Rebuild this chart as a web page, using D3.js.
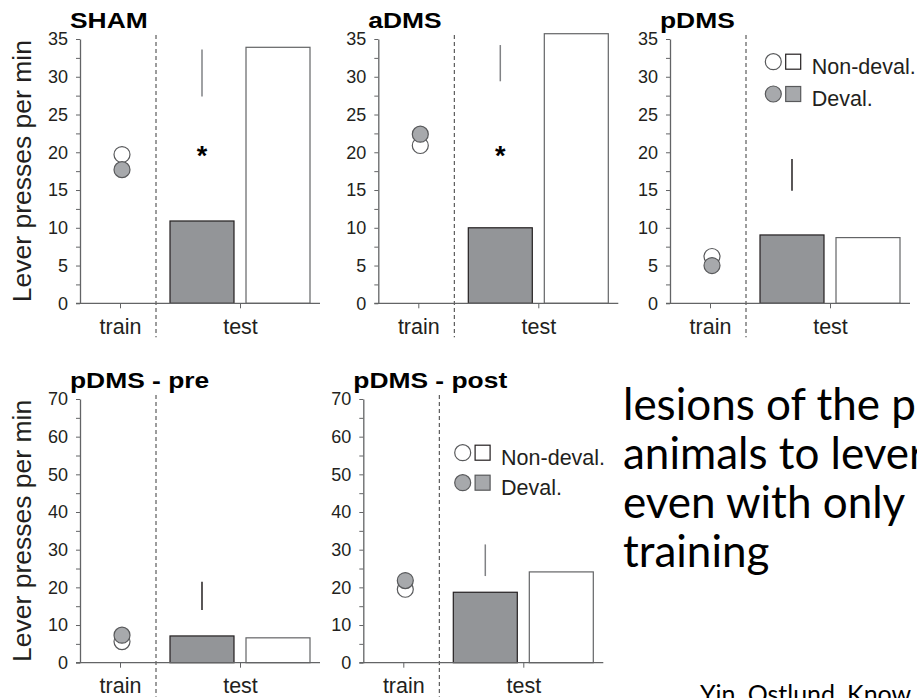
<!DOCTYPE html>
<html>
<head>
<meta charset="utf-8">
<script src="https://cdn.jsdelivr.net/npm/d3@7"></script>
<style>
  body { margin: 0; background: #fff; }
  svg { display: block; font-family: 'Liberation Sans', Arial, sans-serif; }
</style>
</head>
<body>
<svg width="917" height="698"></svg>
<script>
// values (lever presses per min)
let titles = ['SHAM', 'aDMS', 'pDMS', 'pDMS - pre', 'pDMS - post']
let phases = ['train', 'test']
let groups = ['Deval.', 'Non-deval.']
let yMax = [35, 35, 35, 70, 70]
let yStep = [5, 5, 5, 10, 10]
let trainNonDeval = [19.7, 20.9, 6.2, 5.6, 19.5]
let trainDeval = [17.7, 22.4, 5.0, 7.3, 21.8]
let testDeval = [10.9, 10.0, 9.05, 7.1, 18.7]
let testNonDeval = [33.9, 35.7, 8.7, 6.6, 24.1]
let errLow = [27.4, 29.4, 14.9, 14.0, 23.0]
let errHigh = [33.6, 34.2, 19.1, 21.5, 31.4]
let stars = [20.4, 20.4, null, null, null]
let legendLabels = ['Non-deval.', 'Deval.']
let yLabel = 'Lever presses per min'
let textLines = ['lesions of the p', 'animals to lever', 'even with only', 'training']
let citation = 'Yin, Ostlund, Know'

// panel placement on the page
let boxes = [
  { x: 80, top: 39, bottom: 303.3, err: '#808285', ylab: true },
  { x: 378.3, top: 39, bottom: 303.3, err: '#808285' },
  { x: 670, top: 39, bottom: 303.3, err: '#231f20', legend: [103.3, 61.7, 32.3] },
  { x: 80, top: 399, bottom: 662.7, err: '#231f20', ylab: true },
  { x: 363.3, top: 399, bottom: 662.7, err: '#808285', legend: [99.4, 452.7, 30] }
]

let ink = '#231f20'
let axisCol = '#636466'
let greyFill = '#939598'
let dotFill = '#a7a9ac'

let svg = d3.select('svg')
svg.append('rect').attr('width', 917).attr('height', 698).attr('fill', '#fff')

let tx = d3.scalePoint().domain(phases).range([40, 160])
let bx = d3.scaleBand().domain(groups).range([90, 230]).paddingInner(0.158)

titles.forEach((title, i) => {
  let b = boxes[i]
  let y = d3.scaleLinear().domain([0, yMax[i]]).range([b.bottom, b.top])
  let major = d3.range(0, yMax[i] + 0.01, yStep[i])
  let minor = d3.range(yStep[i] / 2, yMax[i], yStep[i])

  let g = svg.append('g').attr('transform', 'translate(' + b.x + ',0)')

  // title
  g.append('text')
    .attr('transform', 'translate(-10,' + (b.top - 11) + ') scale(1.2,1)')
    .attr('font-size', 22)
    .attr('font-weight', 'bold')
    .attr('fill', '#000')
    .text(title)

  // dashed separator
  g.append('line')
    .attr('x1', 76).attr('x2', 76)
    .attr('y1', b.top - 4).attr('y2', b.bottom + 34)
    .attr('stroke', '#3a3a3a')
    .attr('stroke-dasharray', '4,3')

  // bars
  let bars = [
    { k: 'Deval.', v: testDeval[i] },
    { k: 'Non-deval.', v: testNonDeval[i] }
  ]
  g.selectAll('.bar')
    .data(bars)
    .enter()
    .append('rect')
    .attr('x', d => bx(d.k))
    .attr('width', bx.bandwidth())
    .attr('y', d => y(d.v))
    .attr('height', d => y(0) - y(d.v))
    .attr('fill', d => d.k == 'Deval.' ? greyFill : '#fff')
    .attr('stroke', d => d.k == 'Deval.' ? ink : axisCol)
    .attr('stroke-width', 1.2)

  // error bar
  let ex = bx('Deval.') + bx.bandwidth() / 2
  g.append('line')
    .attr('x1', ex).attr('x2', ex)
    .attr('y1', y(errLow[i])).attr('y2', y(errHigh[i]))
    .attr('stroke', b.err)
    .attr('stroke-width', 1.5)

  if (stars[i] != null) {
    g.append('text')
      .attr('x', ex)
      .attr('y', y(stars[i]))
      .attr('dy', '0.58em')
      .attr('text-anchor', 'middle')
      .attr('font-size', 27)
      .attr('font-weight', 'bold')
      .attr('fill', '#000')
      .text('*')
  }

  // training dots, deval drawn on top
  let dots = [
    { k: 'Non-deval.', v: trainNonDeval[i] },
    { k: 'Deval.', v: trainDeval[i] }
  ]
  g.selectAll('.dot')
    .data(dots)
    .enter()
    .append('circle')
    .attr('cx', tx('train') + 2)
    .attr('cy', d => y(d.v))
    .attr('r', 8)
    .attr('fill', d => d.k == 'Deval.' ? dotFill : '#fff')
    .attr('stroke', '#58595b')
    .attr('stroke-width', 1.2)

  // baseline
  g.append('line')
    .attr('x1', -4).attr('x2', 240)
    .attr('y1', y(0)).attr('y2', y(0))
    .attr('stroke', axisCol)
    .attr('stroke-width', 1.3)

  // y axis
  let ya = g.append('g')
    .call(d3.axisLeft(y).tickValues(major).tickSize(4).tickSizeOuter(0).tickPadding(8))
  ya.select('.domain').attr('stroke', axisCol).attr('stroke-width', 1.3)
  ya.selectAll('.tick line').attr('stroke', axisCol)
  ya.selectAll('.tick text')
    .attr('font-size', 18)
    .attr('font-family', "'Liberation Sans', Arial, sans-serif")
    .attr('fill', ink)

  let ym = g.append('g')
    .call(d3.axisLeft(y).tickValues(minor).tickSize(4).tickFormat(''))
  ym.select('.domain').remove()
  ym.selectAll('.tick line').attr('stroke', axisCol)

  // x axis
  let xa = g.append('g')
    .attr('transform', 'translate(0,' + y(0) + ')')
    .call(d3.axisBottom(tx).tickSize(5).tickPadding(10))
  xa.select('.domain').remove()
  xa.selectAll('.tick line').attr('stroke', axisCol)
  xa.selectAll('.tick text')
    .attr('font-size', 21.5)
    .attr('font-family', "'Liberation Sans', Arial, sans-serif")
    .attr('fill', ink)

  if (b.ylab) {
    svg.append('text')
      .attr('transform', 'translate(30.7,' + ((b.top + b.bottom) / 2) + ') rotate(-90)')
      .attr('text-anchor', 'middle')
      .attr('font-size', 26.5)
      .attr('fill', ink)
      .text(yLabel)
  }

  if (b.legend) {
    let [lx, ly, gap] = b.legend
    let lg = g.selectAll('.leg')
      .data(legendLabels)
      .enter()
      .append('g')
      .attr('transform', (d, j) => 'translate(' + lx + ',' + (ly + j * gap) + ')')
    lg.append('circle')
      .attr('r', 8)
      .attr('fill', d => d == 'Deval.' ? dotFill : '#fff')
      .attr('stroke', '#58595b')
      .attr('stroke-width', 1.2)
    lg.append('rect')
      .attr('x', 12.4).attr('y', -7.5)
      .attr('width', 15).attr('height', 15)
      .attr('fill', d => d == 'Deval.' ? dotFill : '#fff')
      .attr('stroke', d => d == 'Deval.' ? '#58595b' : ink)
      .attr('stroke-width', 1.2)
    lg.append('text')
      .attr('x', 38.4)
      .attr('y', 12)
      .attr('font-size', 21.5)
      .attr('fill', ink)
      .text(d => d)
  }
})

// slide text on the right
svg.append('g')
  .selectAll('text')
  .data(textLines)
  .enter()
  .append('text')
  .attr('x', 623)
  .attr('y', (d, i) => 420 + i * 49)
  .attr('font-family', 'Lato, sans-serif')
  .attr('font-size', 44)
  .attr('fill', '#000')
  .text(d => d)

svg.append('text')
  .attr('x', 700)
  .attr('y', 703)
  .attr('font-family', 'Lato, sans-serif')
  .attr('font-size', 25)
  .attr('fill', '#000')
  .text(citation)
</script>
</body>
</html>
